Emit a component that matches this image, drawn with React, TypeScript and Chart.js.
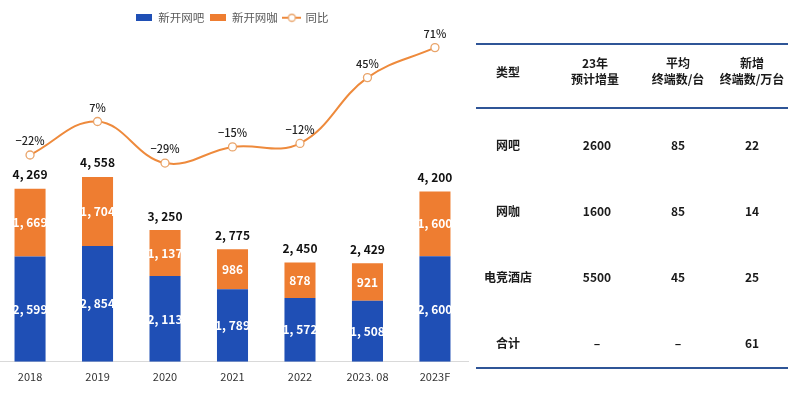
import React, { useEffect, useRef } from 'react';
import { Chart, registerables } from 'chart.js';

Chart.register(...registerables);

const categories = ['2018', '2019', '2020', '2021', '2022', '2023. 08', '2023F'];
const netBarValues = [2599, 2854, 2113, 1789, 1572, 1508, 2600];
const netCafeValues = [1669, 1704, 1137, 986, 878, 921, 1600];
const totalValues = [4269, 4558, 3250, 2775, 2450, 2429, 4200];
const yoyValues = [-22, 7, -29, -15, -12, 45, 71];
const seriesNames = ['新开网吧', '新开网咖', '同比'];

const tableHeader = [['类型'], ['23年', '预计增量'], ['平均', '终端数/台'], ['新增', '终端数/万台']];
const tableTypes = ['网吧', '网咖', '电竞酒店', '合计'];
const tableIncrease = ['2600', '1600', '5500', '–'];
const tableAvgTerminals = ['85', '85', '45', '–'];
const tableNewTerminals = ['22', '14', '25', '61'];

const FONT = '"Noto Sans CJK SC", "Noto Sans", sans-serif';
const BLUE = '#1F4FB5';
const ORANGE = '#EE7D31';
const LINE = '#EE8A3C';
const TABLE_LINE = '#2F5597';

const fmt = (n: number) => (n >= 1000 ? n.toLocaleString('en-US').replace(',', ', ') : String(n));
const fmtPct = (n: number) => `${n < 0 ? '\u2212' : ''}${Math.abs(n)}%`;

function makeRectIcon(color: string) {
  const c = document.createElement('canvas');
  c.width = 16;
  c.height = 7;
  const ctx = c.getContext('2d')!;
  ctx.fillStyle = color;
  ctx.fillRect(0, 0, 16, 7);
  return c;
}

function makeLineIcon() {
  const c = document.createElement('canvas');
  c.width = 19;
  c.height = 10;
  const ctx = c.getContext('2d')!;
  ctx.strokeStyle = LINE;
  ctx.lineWidth = 2;
  ctx.beginPath();
  ctx.moveTo(0, 5);
  ctx.lineTo(19, 5);
  ctx.stroke();
  ctx.fillStyle = '#fff';
  ctx.strokeStyle = '#E9A46A';
  ctx.lineWidth = 1.3;
  ctx.beginPath();
  ctx.arc(9.5, 5, 3.5, 0, Math.PI * 2);
  ctx.fill();
  ctx.stroke();
  return c;
}

const labelPlugin = {
  id: 'valueLabels',
  afterDatasetsDraw(chart: any) {
    const ctx = chart.ctx;
    ctx.save();
    ctx.textAlign = 'center';
    ctx.textBaseline = 'middle';
    [0, 1].forEach((di) => {
      const meta = chart.getDatasetMeta(di);
      const values = di === 0 ? netBarValues : netCafeValues;
      meta.data.forEach((el: any, i: number) => {
        ctx.fillStyle = '#ffffff';
        ctx.font = `bold 12px ${FONT}`;
        ctx.fillText(fmt(values[i]), el.x, (el.y + el.base) / 2);
      });
    });
    const topMeta = chart.getDatasetMeta(1);
    topMeta.data.forEach((el: any, i: number) => {
      ctx.fillStyle = '#111';
      ctx.font = `bold 12px ${FONT}`;
      ctx.fillText(fmt(totalValues[i]), el.x, el.y - 14);
    });
    const lineMeta = chart.getDatasetMeta(2);
    lineMeta.data.forEach((el: any, i: number) => {
      ctx.fillStyle = '#222';
      ctx.font = `500 11px ${FONT}`;
      ctx.fillText(fmtPct(yoyValues[i]), el.x, el.y - 14);
    });
    ctx.restore();
  },
};

export default function App() {
  const canvasRef = useRef<HTMLCanvasElement | null>(null);

  useEffect(() => {
    if (!canvasRef.current) return;
    const icons = [makeRectIcon(BLUE), makeRectIcon(ORANGE), makeLineIcon()];
    const chart = new Chart(canvasRef.current, {
      type: 'bar',
      data: {
        labels: categories,
        datasets: [
          {
            type: 'bar',
            label: seriesNames[0],
            data: netBarValues,
            backgroundColor: BLUE,
            yAxisID: 'y',
            barPercentage: 0.46,
            categoryPercentage: 1,
          },
          {
            type: 'bar',
            label: seriesNames[1],
            data: netCafeValues,
            backgroundColor: ORANGE,
            yAxisID: 'y',
            barPercentage: 0.46,
            categoryPercentage: 1,
          },
          {
            type: 'line',
            label: seriesNames[2],
            data: yoyValues,
            yAxisID: 'y1',
            borderColor: LINE,
            borderWidth: 2,
            tension: 0.4,
            pointRadius: 4,
            pointBackgroundColor: '#ffffff',
            pointBorderColor: '#E9A46A',
            pointBorderWidth: 1.3,
          },
        ],
      } as any,
      options: {
        animation: false,
        responsive: false,
        maintainAspectRatio: false,
        layout: { padding: { top: 6, bottom: 16, left: 0, right: 0 } },
        plugins: {
          tooltip: { enabled: false },
          legend: {
            position: 'top',
            labels: {
              usePointStyle: true,
              pointStyleWidth: 16,
              padding: 6,
              color: '#595959',
              font: { size: 11.5, family: FONT },
              generateLabels: () =>
                seriesNames.map((name, i) => ({
                  text: name,
                  pointStyle: icons[i],
                  datasetIndex: i,
                  hidden: false,
                  lineWidth: 0,
                  fillStyle: 'transparent',
                  strokeStyle: 'transparent',
                  fontColor: '#595959',
                })) as any,
            },
          },
        },
        scales: {
          x: {
            stacked: true,
            offset: true,
            grid: { display: false },
            border: { display: true, color: '#D9D9D9', width: 1 },
            ticks: { color: '#333', font: { size: 11, family: FONT }, padding: 0 },
          },
          y: {
            stacked: true,
            display: false,
            min: 0,
            max: 8094,
          },
          y1: {
            display: false,
            min: -201.1,
            max: 83.2,
          },
        },
      } as any,
      plugins: [labelPlugin],
    });
    return () => chart.destroy();
  }, []);

  const colCenters = [508, 597, 678, 752];
  const rowCenters = [145, 211, 277, 343];
  const cellStyle = (cx: number, cy: number): React.CSSProperties => ({
    position: 'absolute',
    left: cx - 50,
    top: cy - 9,
    width: 100,
    height: 18,
    lineHeight: '18px',
    textAlign: 'center',
    fontSize: 12,
    fontWeight: 'bold',
    color: '#1a1a1a',
    whiteSpace: 'nowrap',
  });
  const lineStyle = (y: number): React.CSSProperties => ({
    position: 'absolute',
    left: 476,
    top: y - 1,
    width: 312,
    height: 2,
    background: TABLE_LINE,
  });
  const rows = tableTypes.map((t, i) => [t, tableIncrease[i], tableAvgTerminals[i], tableNewTerminals[i]]);

  return (
    <div
      style={{
        position: 'fixed',
        left: 0,
        top: 0,
        width: 800,
        height: 399,
        background: '#fff',
        overflow: 'hidden',
        fontFamily: FONT,
      }}
    >
      <canvas
        ref={canvasRef}
        width={483}
        height={399}
        style={{ position: 'absolute', left: -9, top: 0, width: 483, height: 399 }}
      />
      <div style={lineStyle(44)} />
      <div style={lineStyle(108)} />
      <div style={lineStyle(368)} />
      {tableHeader.map((lines, ci) =>
        lines.length === 1 ? (
          <div key={`h${ci}`} style={cellStyle(colCenters[ci], 72)}>
            {lines[0]}
          </div>
        ) : (
          lines.map((l, li) => (
            <div key={`h${ci}-${li}`} style={cellStyle(colCenters[ci] - (ci === 1 ? 2 : 0), 63 + li * 16)}>
              {l}
            </div>
          ))
        )
      )}
      {rows.map((r, ri) =>
        r.map((v, ci) => (
          <div key={`r${ri}-${ci}`} style={cellStyle(colCenters[ci], rowCenters[ri])}>
            {v}
          </div>
        ))
      )}
    </div>
  );
}
